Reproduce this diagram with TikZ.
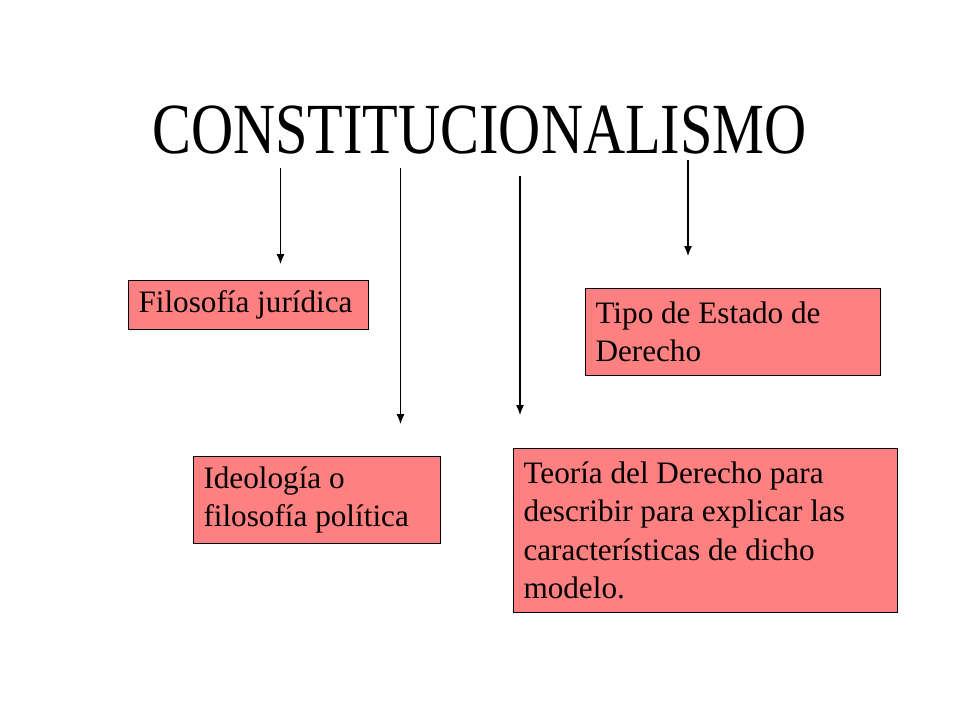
\documentclass[tikz,border=0pt]{standalone}
\usepackage{fontspec}
\setmainfont{Liberation Serif}
\usetikzlibrary{arrows.meta}
\definecolor{boxfill}{RGB}{255,128,128}
\tikzset{
  box/.style={draw=black, line width=1pt, fill=boxfill, anchor=north west,
    inner xsep=10pt, inner ysep=2pt, align=flush left,
    font=\fontsize{31.2}{38.4}\selectfont},
  conn/.style={line width=1.1pt, -{Latex[length=10pt,width=8pt]}}
}
\begin{document}
\begin{tikzpicture}[x=1pt,y=-1pt]
\useasboundingbox (0,0) rectangle (960,720);
\fill[white] (0,0) rectangle (960,720);
\node[anchor=base, inner sep=0pt] (title) at (479.5,153)
  {\scalebox{0.81}[1]{\fontsize{72}{80}\selectfont CONSTITUCIONALISMO}};
\node[box, minimum width=240pt, minimum height=49pt, text width=220pt] (filo) at (128,280) {Filosofía jurídica};
\node[box, minimum width=295pt, minimum height=87pt, text width=275pt] (tipo) at (585,288) {Tipo de Estado de\\Derecho};
\node[box, minimum width=247pt, minimum height=87pt, text width=227pt] (ideo) at (193,456) {Ideología o\\filosofía política};
\node[box, minimum width=384pt, minimum height=164pt, text width=364pt] (teo) at (513,448) {Teoría del Derecho para\\describir para explicar las\\características de dicho\\modelo.};
\coordinate (s1) at (280.5,168); \coordinate (e1) at (280.5,264);
\coordinate (s2) at (400.5,168); \coordinate (e2) at (400.5,424);
\coordinate (s3) at (520,176);   \coordinate (e3) at (520,415);
\coordinate (s4) at (688,160);   \coordinate (e4) at (688,256);
\draw[conn] (s1) -- (e1);
\draw[conn] (s2) -- (e2);
\draw[conn] (s3) -- (e3);
\draw[conn] (s4) -- (e4);
\end{tikzpicture}
\end{document}
